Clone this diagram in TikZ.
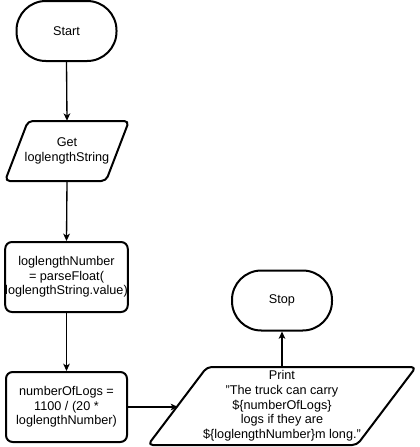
\documentclass[tikz,border=0pt]{standalone}
\usepackage{fontspec}
\setmainfont{Liberation Sans}
\usetikzlibrary{arrows.meta,calc}
\begin{document}
\begin{tikzpicture}[x=0.75pt,y=-0.75pt,
  txt/.style={align=center,font=\fontsize{9.5}{11}\selectfont,inner sep=0pt},
  shp/.style={draw,line width=1.5pt},
  term/.style={txt,shp,rounded corners=22pt,minimum width=75pt,minimum height=45pt},
  proc/.style={txt,shp,rounded corners=5pt,minimum width=90.75pt,minimum height=52.5pt},
  iobox/.style={txt},
  para/.style={shp,rounded corners=3.5pt,line join=round},
  arr/.style={-{Stealth[length=5.5pt,width=5pt,inset=1.5pt]},line width=1pt}]
\useasboundingbox (0,0) rectangle (419,447);

\node[term] (start) at (66.5,31) {Start};
\node[iobox,minimum width=93pt,minimum height=45pt] (get) at (67,151) {Get\\loglengthString};
\draw[para] (5,181) -- (28,121) -- (129,121) -- (106,181) -- cycle;
\node[proc] (conv) at (66.5,277) {loglengthNumber\\= parseFloat(\\loglengthString.value)};
\node[proc] (calc) at (66.5,407) {numberOfLogs =\\1100 / (20 *\\loglengthNumber)};
\node[iobox,minimum width=200pt,minimum height=58.5pt] (print) at (282,406) {Print\\"The truck can carry\\\$\{numberOfLogs\}\\logs if they are\\\$\{loglengthNumber\}m long."};
\draw[para] (148,445) -- (207,367) -- (416,367) -- (357,445) -- cycle;
\coordinate (printin) at (178,407);
\node[term] (stop) at (282,300.5) {Stop};

\draw[arr] (start.south) -- (get.north);
\draw[arr] (get.south) -- (conv.north);
\draw[arr] (conv.south) -- (calc.north);
\draw[arr] (calc.east) -- (printin);
\draw[arr] (print.north) -- (stop.south);
\end{tikzpicture}
\end{document}
